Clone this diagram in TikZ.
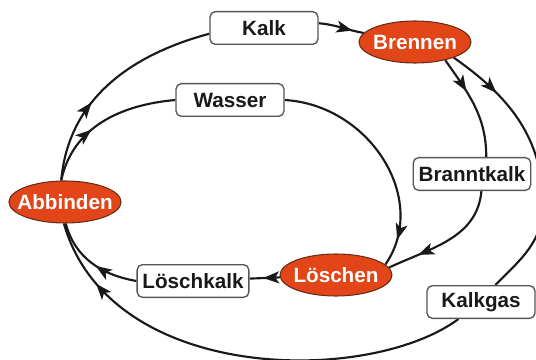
\documentclass[tikz,border=0pt]{standalone}
\usepackage{fontspec}
\setmainfont{Liberation Sans}
\usetikzlibrary{shapes.geometric, arrows.meta, decorations.markings, backgrounds}
\definecolor{burnred}{RGB}{226, 70, 24}
\definecolor{rimgray}{RGB}{85, 85, 85}
\definecolor{inkblack}{RGB}{25, 25, 25}

\begin{document}
\begin{tikzpicture}[x=0.75pt, y=0.75pt,
  box/.style={draw=rimgray, line width=1pt, fill=white, rounded corners=4pt,
    minimum width=81pt, minimum height=24.5pt, inner xsep=4pt,
    font=\fontsize{15.5}{18}\selectfont\bfseries, text=inkblack},
  ellip/.style={ellipse, draw=inkblack!60!burnred, line width=0.8pt, fill=burnred,
    minimum width=84pt, minimum height=31.5pt, inner xsep=-6pt, inner ysep=0pt,
    font=\fontsize{15.5}{18}\selectfont\bfseries, text=white},
  flow/.style={draw=inkblack, line width=1.6pt},
  arr/.style={postaction={decorate}, decoration={markings,
    mark=at position #1 with {\arrow{Stealth[length=12pt, width=9pt, inset=3pt]}}}}]
  \useasboundingbox (0,0) rectangle (536,-360);

  % Process steps
  \node[ellip] (Abbinden) at (65,-202) {Abbinden};
  \node[ellip] (Brennen) at (415,-42) {Brennen};
  \node[ellip] (Loeschen) at (336,-275) {Löschen};

  % Substances
  \node[box] (Kalk) at (264,-28) {Kalk};
  \node[box] (Wasser) at (230,-100) {Wasser};
  \node[box] (Branntkalk) at (472,-174) {Branntkalk};
  \node[box] (Loeschkalk) at (193,-281) {Löschkalk};
  \node[box] (Kalkgas) at (481,-302) {Kalkgas};

  % Cycle
  \begin{scope}[on background layer]
    \draw[flow, arr=0.38] (Abbinden.100) to[out=85, in=195] (Kalk.186);
    \draw[flow, arr=0.4] (Abbinden.100) to[out=78, in=185] (Wasser.west);
    \draw[flow, arr=0.75] (Kalk.5) to[out=-5, in=170] (Brennen.170);
    \draw[flow, arr=0.35] (Brennen.-31) to[out=-55, in=90] (Branntkalk.50);
    \draw[flow, arr=0.2] (Brennen.-22) to[out=-35, in=90] (543,-205)
      to[out=-90, in=45] (Kalkgas.50);
    \draw[flow, arr=0.85] (Kalkgas.-143) .. controls (370,-385) and (110,-385) .. (Abbinden.-93);
    \draw[flow, arr=0.88] (Wasser.east) .. controls (370,-105) and (430,-200) .. (Loeschen.12);
    \draw[flow, arr=0.75] (Branntkalk.-61) to[out=-95, in=25] (Loeschen.8);
    \draw[flow, arr=0.55] (Loeschen) -- (Loeschkalk);
    \draw[flow, arr=0.45] (Loeschkalk.west) to[out=170, in=-75] (Abbinden.-88);
  \end{scope}
\end{tikzpicture}
\end{document}
